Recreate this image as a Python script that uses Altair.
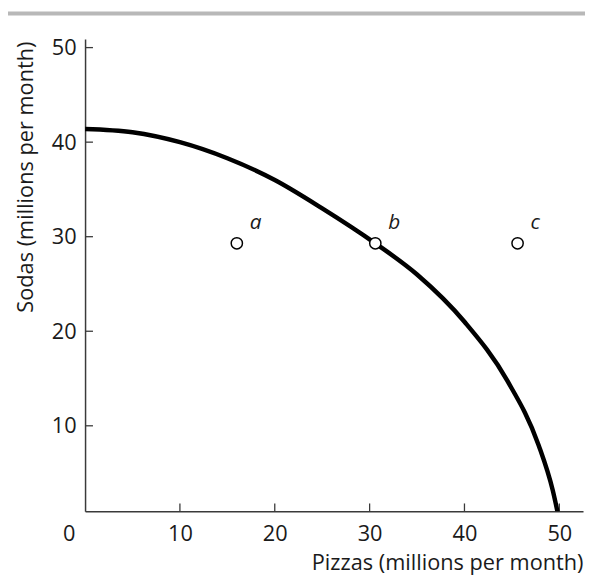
import altair as alt
import pandas as pd

# Production possibilities frontier
curve_x = [0, 5, 10, 15, 20, 25, 30.6, 35, 40, 44.5, 47.8, 49.3, 50]
curve_y = [41.4, 41.05, 40.0, 38.3, 36.0, 33.0, 29.3, 26.0, 21.0, 14.8, 8.0, 3.2, 0]

point_names = ["a", "b", "c"]
point_x = [16, 30.6, 45.6]
point_y = [29.3, 29.3, 29.3]

tick_values = [10, 20, 30, 40, 50]
origin_label = ["0"]

W, H = 504, 478
FONT = "Open Sans"
INK = "#1a1a1a"

curve_df = pd.DataFrame({"x": curve_x, "y": curve_y})
pts_df = pd.DataFrame({"x": point_x, "y": point_y, "name": point_names})
ticks_df = pd.DataFrame({"v": tick_values})
origin_df = pd.DataFrame({"t": origin_label})

xs = alt.Scale(domain=[0, 52.5], nice=False, zero=False)
ys = alt.Scale(domain=[0.95, 50.9], nice=False, zero=False)

x_axis = alt.Axis(
    values=tick_values, tickSize=0, grid=False,
    domainColor="#3a3a3a", domainWidth=1.5,
    labelFont=FONT, labelFontSize=22, labelColor=INK, labelPadding=13,
    title="Pizzas (millions per month)", titleFont=FONT, titleFontSize=22,
    titleFontWeight="normal", titleColor=INK,
    titleX=W, titleY=59, titleAlign="right", titleBaseline="alphabetic",
)
y_axis = alt.Axis(
    values=tick_values, tickSize=0, grid=False,
    domainColor="#3a3a3a", domainWidth=1.5,
    labelFont=FONT, labelFontSize=22, labelColor=INK, labelPadding=9,
    title="Sodas (millions per month)", titleFont=FONT, titleFontSize=22,
    titleFontWeight="normal", titleColor=INK,
    titleX=-60, titleY=2, titleAngle=270, titleAlign="right", titleBaseline="middle",
)

curve = alt.Chart(curve_df).mark_line(
    color="black", strokeWidth=4.5, interpolate="monotone", clip=True
).encode(
    x=alt.X("x:Q", scale=xs, axis=x_axis),
    y=alt.Y("y:Q", scale=ys, axis=y_axis),
)

xticks = alt.Chart(ticks_df).mark_rule(color="#3a3a3a", strokeWidth=1.3).encode(
    x=alt.X("v:Q", scale=xs), y=alt.value(H), y2=alt.value(H - 8)
)
yticks = alt.Chart(ticks_df).mark_rule(color="#3a3a3a", strokeWidth=1.3).encode(
    y=alt.Y("v:Q", scale=ys), x=alt.value(0), x2=alt.value(8)
)

points = alt.Chart(pts_df).mark_point(
    shape="circle", size=130, filled=True, fill="white", stroke="black", strokeWidth=1.5, opacity=1
).encode(
    x=alt.X("x:Q", scale=xs), y=alt.Y("y:Q", scale=ys)
)

labels = alt.Chart(pts_df).mark_text(
    font=FONT, fontSize=21, fontStyle="italic", color=INK,
    align="left", baseline="alphabetic", dx=13, dy=-14
).encode(
    x=alt.X("x:Q", scale=xs), y=alt.Y("y:Q", scale=ys), text="name:N"
)

origin = alt.Chart(origin_df).mark_text(
    font=FONT, fontSize=22, color=INK, align="center", baseline="middle"
).encode(x=alt.value(-16), y=alt.value(H + 23), text="t:N")

topbar = alt.Chart(origin_df).mark_rect(color="#b8b8b8").encode(
    x=alt.value(-78), x2=alt.value(W + 4), y=alt.value(-28), y2=alt.value(-24)
)

chart = alt.layer(topbar, xticks, yticks, curve, points, labels, origin).properties(
    width=W, height=H,
    autosize=alt.AutoSizeParams(type="none"),
    padding={"left": 78, "top": 28, "right": 2, "bottom": 66},
    background="white",
).configure_view(stroke=None)

chart.save("out.html", embed_options={"renderer": "svg", "actions": False})
